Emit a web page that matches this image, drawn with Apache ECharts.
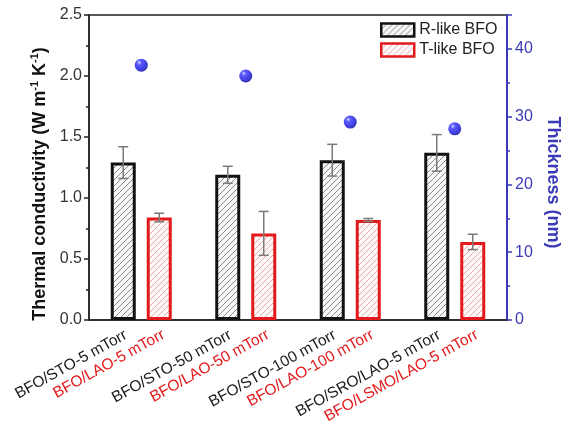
<!DOCTYPE html>
<html><head><meta charset="utf-8">
<script src="https://cdn.jsdelivr.net/npm/echarts@6/dist/echarts.min.js"></script>
<style>html,body{margin:0;padding:0;background:#fff}#c{width:563px;height:428px}</style>
</head><body><div id="c"></div>
<script>
const categoriesR = ['BFO/STO-5 mTorr', 'BFO/STO-50 mTorr', 'BFO/STO-100 mTorr', 'BFO/SRO/LAO-5 mTorr'];
const categoriesT = ['BFO/LAO-5 mTorr', 'BFO/LAO-50 mTorr', 'BFO/LAO-100 mTorr', 'BFO/LSMO/LAO-5 mTorr'];
const rLike = [1.29, 1.19, 1.31, 1.37];
const rErr = [0.13, 0.07, 0.13, 0.15];
const tLike = [0.84, 0.71, 0.82, 0.64];
const tErr = [0.035, 0.18, 0.012, 0.063];
const thickness = [37.6, 36.0, 29.2, 28.2];

const FONT = 'Liberation Sans, Arial, sans-serif';
const BLUE = '#3a3ab8';
const RED = '#e31a1c';
const BAR_W = 25, GAP = 11, OFF = (BAR_W + GAP) / 2;

function hatch(bg, fg, size) {
  const c = document.createElement('canvas');
  c.width = size; c.height = size;
  const g = c.getContext('2d');
  g.fillStyle = bg; g.fillRect(0, 0, size, size);
  g.strokeStyle = fg; g.lineWidth = 1;
  g.beginPath();
  g.moveTo(-1, size + 1); g.lineTo(size + 1, -1);
  g.moveTo(-size / 2 - 1, size / 2 + 1); g.lineTo(size / 2 + 1, -size / 2 - 1);
  g.moveTo(size / 2 - 1, size * 1.5 + 1); g.lineTo(size * 1.5 + 1, size / 2 - 1);
  g.stroke();
  return c;
}

function errItem(offset) {
  return function (params, api) {
    const i = api.value(0), v = api.value(1), e = api.value(2);
    const top = api.coord([i, v + e]);
    const bot = api.coord([i, v - e]);
    const x = top[0] + offset, cap = 5;
    const st = { stroke: '#7a7a7a', lineWidth: 1.5 };
    return {
      type: 'group', children: [
        { type: 'line', shape: { x1: x, y1: top[1], x2: x, y2: bot[1] }, style: st },
        { type: 'line', shape: { x1: x - cap, y1: top[1], x2: x + cap, y2: top[1] }, style: st },
        { type: 'line', shape: { x1: x - cap, y1: bot[1], x2: x + cap, y2: bot[1] }, style: st }
      ]
    };
  };
}

const chart = echarts.init(document.getElementById('c'), null, { renderer: 'canvas' });
chart.setOption({
  animation: false,
  backgroundColor: '#fff',
  textStyle: { fontFamily: FONT },
  grid: [
    { left: 89, right: 56, top: 15, bottom: 108, outerBoundsMode: 'none', containLabel: false, show: true, borderColor: '#222', borderWidth: 1.5, backgroundColor: 'transparent' },
    { left: 107, right: 38, top: 15, bottom: 108, outerBoundsMode: 'none', containLabel: false, show: false }
  ],
  legend: {
    orient: 'vertical', left: 380, top: 22, padding: 0, itemWidth: 33, itemHeight: 13, itemGap: 4,
    icon: 'rect',
    textStyle: { fontSize: 16, color: '#222', fontFamily: FONT },
    data: [
      { name: 'R-like BFO', itemStyle: { borderWidth: 2.5 } },
      { name: 'T-like BFO', itemStyle: { borderWidth: 2.5 } }
    ]
  },
  xAxis: [
    {
      type: 'category', gridIndex: 0, data: categoriesR,
      axisTick: { show: false }, axisLabel: { show: false },
      axisLine: { lineStyle: { color: '#222', width: 1.5 } }
    },
    {
      type: 'category', gridIndex: 1, data: categoriesR,
      axisTick: { show: false }, axisLine: { show: false },
      axisLabel: {
        interval: 0, rotate: 29, margin: 6,
        formatter: function (v, i) { return '{b|' + categoriesR[i] + '}\n{r|' + categoriesT[i] + '}'; },
        rich: {
          b: { color: '#1a1a1a', fontSize: 15.5, fontFamily: FONT, lineHeight: 18, padding: [0, 33, 0, 0] },
          r: { color: RED, fontSize: 15.5, fontFamily: FONT, lineHeight: 18 }
        }
      }
    }
  ],
  yAxis: [
    {
      type: 'value', gridIndex: 0, min: 0, max: 2.5, interval: 0.5,
      axisLine: { show: true, lineStyle: { color: '#222', width: 1.5 } },
      axisTick: { show: true, length: 5, lineStyle: { color: '#222', width: 1.5 } },
      minorTick: { show: true, splitNumber: 2, length: 3, lineStyle: { color: '#222', width: 1.5 } },
      splitLine: { show: false },
      axisLabel: { fontSize: 16, color: '#333', margin: 7, formatter: v => v.toFixed(1) },
      name: '{t|Thermal conductivity (W m}{s|-1}{t| K}{s|-1}{t|)}',
      nameLocation: 'middle', nameGap: 38,
      nameTextStyle: {
        padding: [0, 33, 0, 0],
        rich: {
          t: { fontSize: 18, fontWeight: 'bold', color: '#111', fontFamily: FONT, lineHeight: 20 },
          s: { fontSize: 11, fontWeight: 'bold', color: '#111', fontFamily: FONT, verticalAlign: 'top', lineHeight: 11 }
        }
      }
    },
    {
      type: 'value', gridIndex: 0, position: 'right', min: 0, max: 45, interval: 10,
      axisLine: { show: true, lineStyle: { color: BLUE, width: 2 } },
      axisTick: { show: true, length: 5, lineStyle: { color: BLUE, width: 1.5 } },
      minorTick: { show: true, splitNumber: 2, length: 3, lineStyle: { color: BLUE, width: 1.5 } },
      splitLine: { show: false },
      axisLabel: { fontSize: 16, color: BLUE, margin: 8, showMaxLabel: false },
      name: 'Thickness (nm)', nameLocation: 'middle', nameRotate: -90, nameGap: 37,
      nameTextStyle: { fontSize: 18, fontWeight: 'bold', color: BLUE, fontFamily: FONT, padding: [0, 0, 0, 30] }
    },
    { type: 'value', gridIndex: 1, show: false, min: 0, max: 1 }
  ],
  series: [
    {
      name: 'R-like BFO', type: 'bar', xAxisIndex: 0, yAxisIndex: 0,
      barWidth: BAR_W, barGap: (GAP / BAR_W * 100) + '%', data: rLike,
      itemStyle: { color: { image: hatch('#f8f8f8', '#8a8a8a', 6), repeat: 'repeat' }, borderColor: '#111', borderWidth: 3 }
    },
    {
      name: 'T-like BFO', type: 'bar', xAxisIndex: 0, yAxisIndex: 0,
      barWidth: BAR_W, data: tLike,
      itemStyle: { color: { image: hatch('#fdfafa', '#eaa8a8', 6), repeat: 'repeat' }, borderColor: RED, borderWidth: 3 }
    },
    {
      type: 'custom', xAxisIndex: 0, yAxisIndex: 0, z: 5, renderItem: errItem(-OFF),
      encode: { x: 0, y: 1 }, data: rLike.map((v, i) => [i, v, rErr[i]])
    },
    {
      type: 'custom', xAxisIndex: 0, yAxisIndex: 0, z: 5, renderItem: errItem(OFF),
      encode: { x: 0, y: 1 }, data: tLike.map((v, i) => [i, v, tErr[i]])
    },
    {
      name: 'Thickness', type: 'scatter', xAxisIndex: 0, yAxisIndex: 1, z: 6,
      symbol: 'circle', symbolSize: 13, data: thickness,
      itemStyle: {
        color: {
          type: 'radial', x: 0.35, y: 0.3, r: 0.75,
          colorStops: [
            { offset: 0, color: '#c8c8ff' },
            { offset: 0.25, color: '#3030ff' },
            { offset: 0.7, color: '#1010d8' },
            { offset: 1, color: '#000090' }
          ]
        }
      }
    }
  ]
});
</script>
</body></html>
